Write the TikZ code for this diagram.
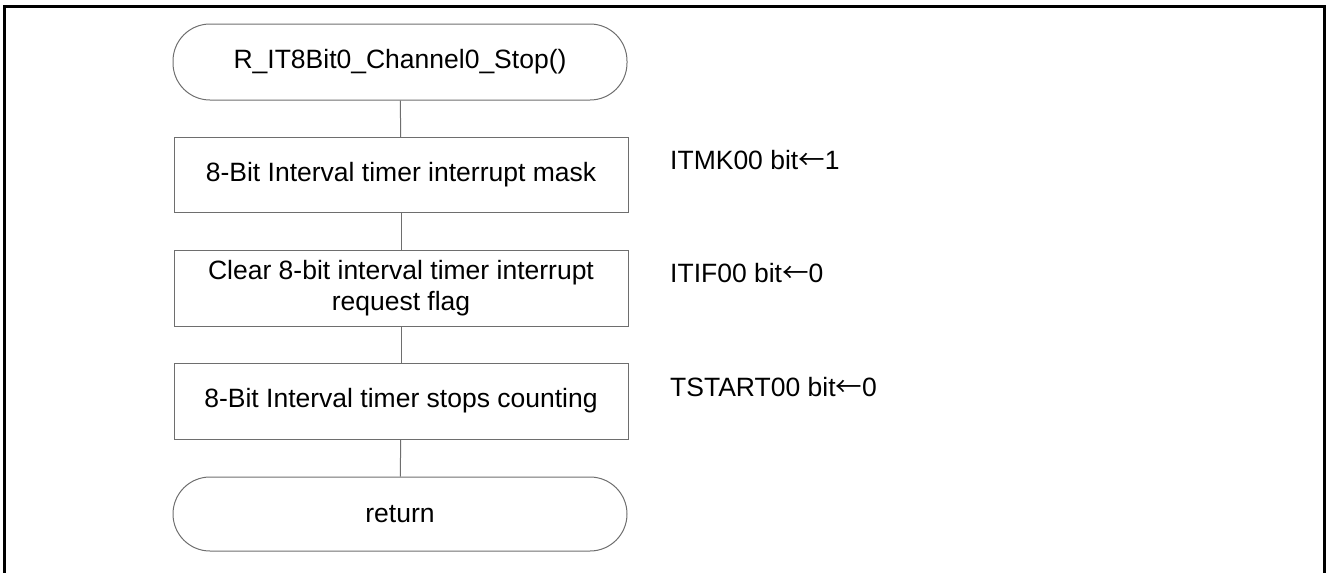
\documentclass[tikz,border=0pt]{standalone}
\usepackage{fontspec}
\setmainfont{Liberation Sans}
\newfontfamily\cjk{Noto Sans CJK JP}
\usetikzlibrary{positioning}
\definecolor{linhaCinza}{RGB}{110,110,110}
\newcommand{\seta}{{\cjk ←}}

\begin{document}
\begin{tikzpicture}[
    x=1pt, y=-1pt,
    every node/.style={font=\fontsize{26.5}{31}\selectfont},
    terminal/.style={draw=linhaCinza, line width=1pt, minimum width=454pt, minimum height=76pt, rounded corners=37pt, inner sep=0pt},
    processo/.style={draw=linhaCinza, line width=1pt, minimum width=454pt, minimum height=75pt, align=center, inner sep=0pt},
    nota/.style={anchor=west, inner sep=0pt},
    ligacao/.style={draw=linhaCinza, line width=1pt}
]

    % Area da figura
    \useasboundingbox (0,0) rectangle (1326,573);
    \draw[line width=3pt] (4.5,6) rectangle (1324,578);

    % Inicio
    \node[terminal] (inicio) at (400,62) {R\_IT8Bit0\_Channel0\_Stop()};

    % Passos
    \node[processo] (mascara) at (401,175) {8-Bit Interval timer interrupt mask};
    \node[processo, minimum height=76pt] (limpar) at (401,288) {Clear 8-bit interval timer interrupt\\request flag};
    \node[processo, minimum height=76pt] (parar) at (401,401) {8-Bit Interval timer stops counting};

    % Fim
    \node[terminal, minimum height=74pt] (retorno) at (400,514) {return};

    % Notas dos registradores
    \node[nota] (notaMK) at (670,160) {ITMK00 bit\seta1};
    \node[nota] (notaIF) at (670,273) {ITIF00 bit\seta0};
    \node[nota] (notaTS) at (670,387) {TSTART00 bit\seta0};

    % Ligacoes
    \draw[ligacao] (inicio) -- (mascara);
    \draw[ligacao] (mascara) -- (limpar);
    \draw[ligacao] (limpar) -- (parar);
    \draw[ligacao] (parar) -- (retorno);

\end{tikzpicture}
\end{document}
